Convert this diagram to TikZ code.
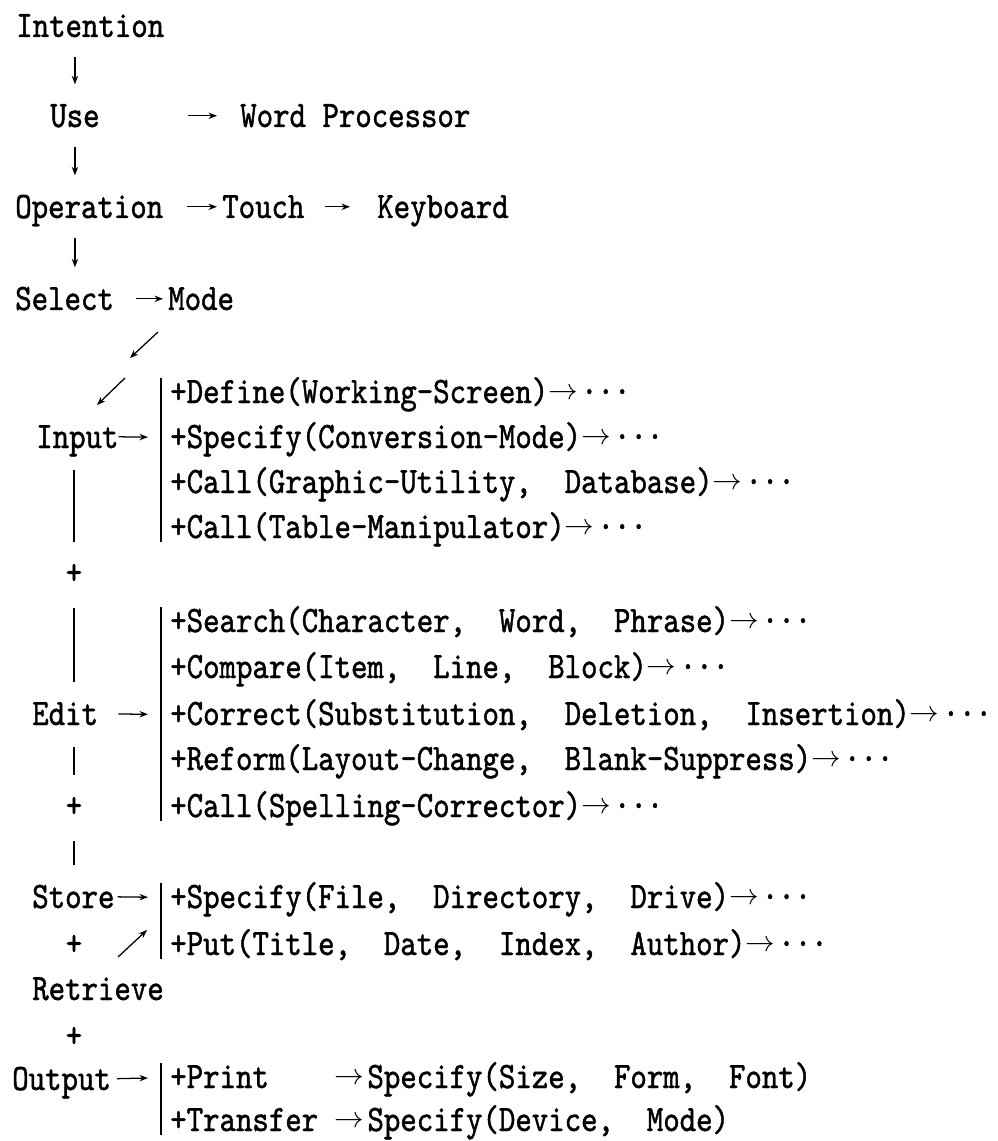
\documentclass[tikz,border=0pt]{standalone}
\usepackage{fontspec}
\usepackage{graphicx}
\usetikzlibrary{arrows.meta}
\newfontfamily\typewr[FakeStretch=0.84,FakeBold=1.2]{lmmono10-regular.otf}
% arrow of two character cells inside a text line
\newcommand\ra{\makebox[0pt][l]{\raisebox{2.4pt}{\resizebox{0.74cm}{!}{$\rightarrow$}}}\hphantom{MM}}

\begin{document}
\begin{tikzpicture}[x=0.025cm,y=-0.025cm,
    word/.style={anchor=base west,inner sep=0pt,text height=0.56cm,text depth=0pt,font=\typewr\fontsize{26.5}{30}\selectfont},
    item/.style={anchor=base west,inner sep=0pt,text height=0.625cm,text depth=0.1cm,font=\typewr\fontsize{26.5}{30}\selectfont},
    plus/.style={inner sep=0pt,font=\typewr\fontsize{26.5}{30}\selectfont},
    flow/.style={line width=0.9pt,-{Stealth[length=6pt,width=4.5pt]}},
    down/.style={flow,shorten <=0.5cm,shorten >=0.5cm},
    stem/.style={line width=0.9pt},
    toplus/.style={stem,shorten <=0.55cm,shorten >=0.8cm},
    tonode/.style={stem,shorten <=0.85cm,shorten >=0.5cm}]
        \path[use as bounding box,fill=white] (0,0) rectangle (997,1141);

        % main chain
        \node[word] (intention) at (16,37) {Intention};
        \node[word] (use) at (50,127) {Use};
        \node[word] (wordproc) at (240,127) {Word Processor};
        \node[word] (operation) at (15,218) {Operation};
        \node[word] (touch) at (222,218) {Touch};
        \node[word] (keyboard) at (377,218) {Keyboard};
        \node[word] (select) at (15,310) {Select};
        \node[word] (mode) at (168,310) {Mode};

        \draw[down] (intention.south -| use) -- (use.north);
        \draw[down] (use.south) -- (use |- operation.north);
        \draw[down] (operation.south -| use) -- (use |- select.north);
        \draw[flow,shorten <=2.2cm,shorten >=0.575cm] (use.east) -- (wordproc.west);
        \draw[flow,shorten <=0.6cm,shorten >=0.125cm] (operation.east) -- (touch.west);
        \draw[flow,shorten <=0.5cm,shorten >=0.675cm] (touch.east) -- (keyboard.west);
        \draw[flow,shorten <=0.55cm,shorten >=0.125cm] (select.east) -- (mode.west);

        \coordinate (m1) at (158,332);
        \coordinate (m2) at (130,358);
        \coordinate (m3) at (125,378);
        \coordinate (m4) at (97,405);
        \draw[flow] (m1) -- (m2);
        \draw[flow] (m3) -- (m4);

        % modes
        \node[word] (input) at (36,448) {Input};
        \node[word] (edit) at (32,725) {Edit};
        \node[word] (store) at (32,908) {Store};
        \node[word] (retrieve) at (32,1000) {Retrieve};
        \node[word] (output) at (12,1090) {Output};
        \node[plus] (p1) at (74,574) {+};
        \node[plus] (p2) at (74,807) {+};
        \node[plus] (p3) at (74,945) {+};
        \node[plus] (p4) at (74,1037) {+};

        \draw[toplus] (input.south -| p1) -- (p1.center);
        \draw[tonode] (p1.center) -- (p1 |- edit.north);
        \draw[toplus] (edit.south -| p2) -- (p2.center);
        \draw[tonode] (p2.center) -- (p2 |- store.north);

        % input list
        \node[item] (in1) at (170,403) {+Define(Working-Screen)\ra···};
        \node[item] (in2) at (170,448) {+Specify(Conversion-Mode)\ra···};
        \node[item] (in3) at (170,493) {+Call(Graphic-Utility,~~Database)\ra···};
        \node[item] (in4) at (170,538) {+Call(Table-Manipulator)\ra···};
        \draw[stem] ([xshift=-0.225cm]in1.north west) -- ([xshift=-0.225cm]in4.south west);
        \draw[flow,shorten >=0.55cm] (input.east) -- (in2.west);

        % edit list
        \node[item] (ed1) at (170,632) {+Search(Character,~~Word,~~Phrase)\ra···};
        \node[item] (ed2) at (170,678) {+Compare(Item,~~Line,~~Block)\ra···};
        \node[item] (ed3) at (170,725) {+Correct(Substitution,~~Deletion,~~Insertion)\ra···};
        \node[item] (ed4) at (170,770) {+Reform(Layout-Change,~~Blank-Suppress)\ra···};
        \node[item] (ed5) at (170,817) {+Call(Spelling-Corrector)\ra···};
        \draw[stem] ([xshift=-0.225cm]ed1.north west) -- ([xshift=-0.225cm]ed5.south west);
        \draw[flow,shorten <=0.5cm,shorten >=0.55cm] (edit.east) -- (ed3.west);

        % store list
        \node[item] (st1) at (170,908) {+Specify(File,~~Directory,~~Drive)\ra···};
        \node[item] (st2) at (170,955) {+Put(Title,~~Date,~~Index,~~Author)\ra···};
        \draw[stem] ([xshift=-0.225cm]st1.north west) -- ([xshift=-0.225cm]st2.south west);
        \draw[flow,shorten <=0.075cm,shorten >=0.55cm] (store.east) -- (st1.west);
        \coordinate (r1) at (118,957);
        \coordinate (r2) at (147,930);
        \draw[flow] (r1) -- (r2);

        % output list
        \node[item] (out1) at (170,1088) {+Print~~~~\ra Specify(Size,~~Form,~~Font)};
        \node[item] (out2) at (170,1131) {+Transfer~\ra Specify(Device,~~Mode)};
        \draw[stem] ([xshift=-0.225cm]out1.north west) -- ([xshift=-0.225cm]out2.south west);
        \draw[flow,shorten <=0.15cm,shorten >=0.55cm] (output.east) -- (out1.west);
\end{tikzpicture}
\end{document}
